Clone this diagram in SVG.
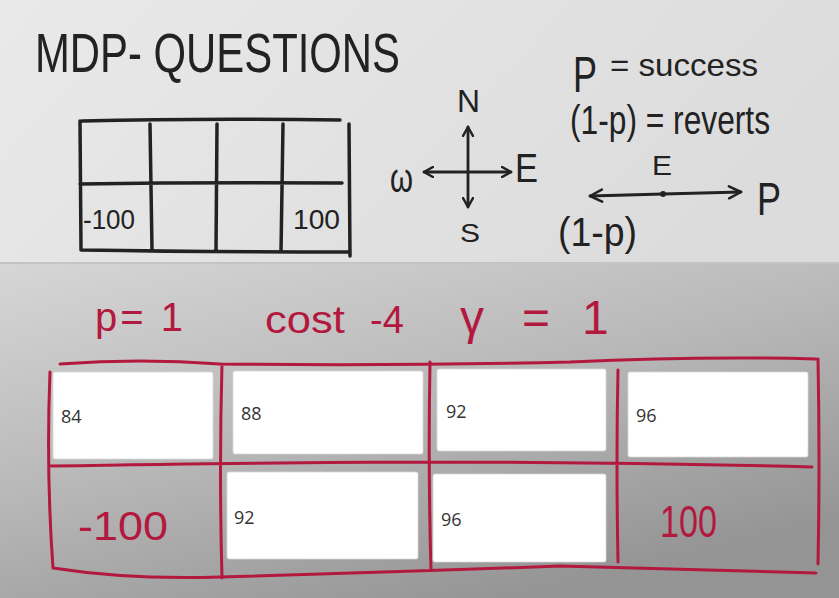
<svg xmlns="http://www.w3.org/2000/svg" width="839" height="598" viewBox="0 0 839 598">
<defs>
<linearGradient id="topbg" x1="0" y1="0" x2="1" y2="0.3">
<stop offset="0" stop-color="#e9e9e9"/><stop offset="1" stop-color="#dcdcdc"/>
</linearGradient>
<linearGradient id="botbg" x1="0" y1="0" x2="0.6" y2="1">
<stop offset="0" stop-color="#d6d6d6"/><stop offset="0.5" stop-color="#b9b9b9"/><stop offset="1" stop-color="#959595"/>
</linearGradient>
<marker id="ah" viewBox="0 0 12 12" refX="10" refY="6" markerWidth="12" markerHeight="12" markerUnits="userSpaceOnUse" orient="auto">
<polyline points="1,1 10,6 1,11" fill="none" stroke="#222" stroke-width="2.5" stroke-linecap="round" stroke-linejoin="round"/>
</marker>
<marker id="ahb" viewBox="0 0 16 16" refX="14" refY="8" markerWidth="16" markerHeight="16" markerUnits="userSpaceOnUse" orient="auto">
<polyline points="2,2 14,8 2,14" fill="none" stroke="#222" stroke-width="2.5" stroke-linecap="round" stroke-linejoin="round"/>
</marker>
</defs>
<style>
.ink{fill:none;stroke:#222;stroke-width:3.5;stroke-linecap:round;stroke-linejoin:round}
.red{fill:none;stroke:#b3193e;stroke-width:3;stroke-linecap:round;stroke-linejoin:round}
.hw{font-family:"Liberation Sans","DejaVu Sans",sans-serif;fill:#222}
.hr{font-family:"Liberation Sans","DejaVu Sans",sans-serif;fill:#b3193e}
.box{fill:#ffffff;stroke:#d8d8d8;stroke-width:0.8}
.val{font-family:"Open Sans","Noto Sans",sans-serif;font-size:18px;fill:#333}
.arr{fill:none;stroke:#222;stroke-width:2.8;stroke-linecap:round}
</style>
<rect x="0" y="0" width="839" height="263" fill="url(#topbg)"/>
<rect x="0" y="263" width="839" height="335" fill="url(#botbg)"/>
<line x1="0" y1="263" x2="839" y2="263" stroke="#c4c4c4" stroke-width="2"/>

<g id="title">
<text class="hw" x="35" y="72" font-size="56" textLength="365" lengthAdjust="spacingAndGlyphs">MDP- QUESTIONS</text>
</g>

<g id="grid-black">
<path class="ink" d="M82 121 Q200 118 340 120 M80 121 L81 250 Q200 252 350 252 M349 124 L350 256 M80 184 Q200 182 342 183 M150 124 L152 250 M217 124 L216 250 M283 124 L281 252"/>
<text class="hw" x="83" y="229" font-size="28" textLength="52" lengthAdjust="spacingAndGlyphs">-100</text>
<text class="hw" x="293" y="229" font-size="28" textLength="47" lengthAdjust="spacingAndGlyphs">100</text>
</g>

<g id="compass">
<text class="hw" x="457" y="112" font-size="32" textLength="23" lengthAdjust="spacingAndGlyphs">N</text>
<text class="hw" x="390" y="192" font-size="40" textLength="23" lengthAdjust="spacingAndGlyphs">ω</text>
<text class="hw" x="515" y="182" font-size="40" textLength="23" lengthAdjust="spacingAndGlyphs">E</text>
<text class="hw" x="460" y="242" font-size="26" textLength="20" lengthAdjust="spacingAndGlyphs">S</text>
</g>

<g id="legend">
<text class="hw" x="573" y="92" font-size="50" textLength="24" lengthAdjust="spacingAndGlyphs">P</text>
<text class="hw" x="610" y="76" font-size="32" textLength="148" lengthAdjust="spacingAndGlyphs">= success</text>
<text class="hw" x="570" y="134" font-size="40" textLength="200" lengthAdjust="spacingAndGlyphs">(1-p) = reverts</text>
<text class="hw" x="652" y="175" font-size="28" textLength="20" lengthAdjust="spacingAndGlyphs">E</text>
<text class="hw" x="757" y="215" font-size="46" textLength="24" lengthAdjust="spacingAndGlyphs">P</text>
<text class="hw" x="558" y="246" font-size="40" textLength="79" lengthAdjust="spacingAndGlyphs">(1-p)</text>
</g>

<g id="connectors">
<line class="arr" x1="468" y1="172" x2="468" y2="127" marker-end="url(#ah)"/>
<line class="arr" x1="468" y1="172" x2="468" y2="207" marker-end="url(#ah)"/>
<line class="arr" x1="468" y1="172" x2="424" y2="172" marker-end="url(#ah)"/>
<line class="arr" x1="468" y1="172" x2="511" y2="172" marker-end="url(#ah)"/>
<line class="arr" x1="663" y1="194" x2="590" y2="196" marker-end="url(#ahb)"/>
<line class="arr" x1="663" y1="194" x2="741" y2="192" marker-end="url(#ahb)"/>
<circle cx="663" cy="194" r="3" fill="#222"/>
</g>

<g id="params">
<text class="hr" x="95" y="331" font-size="40" textLength="88" lengthAdjust="spacing">p= 1</text>
<text class="hr" y="333" font-size="38"><tspan x="265" textLength="80" lengthAdjust="spacingAndGlyphs">cost</tspan> <tspan x="370">-4</tspan></text>
<text class="hr" y="334" font-size="48"><tspan x="460">γ</tspan> <tspan x="522">=</tspan> <tspan x="582">1</tspan></text>
</g>

<g id="grid-red">
<path class="red" d="M60 364 Q140 358 220 364 Q400 366 570 362 Q700 356 816 359 M50 372 Q46 470 53 568 Q130 580 220 577 Q400 572 560 566 Q700 570 816 573 M818 359 Q820 460 818 564 M50 466 Q300 462 430 462 Q620 462 812 467 M222 364 Q219 470 222 578 M430 362 Q428 470 431 570 M618 370 Q616 460 618 562"/>
<text class="hr" x="78" y="540" font-size="40" textLength="90" lengthAdjust="spacingAndGlyphs">-100</text>
<text class="hr" x="660" y="537" font-size="44" textLength="57" lengthAdjust="spacingAndGlyphs">100</text>
</g>

<g id="v-84"><rect class="box" x="53" y="372" width="160" height="87" rx="2"/><text class="val" x="61" y="423">84</text></g>
<g id="v-88"><rect class="box" x="233" y="371" width="190" height="83" rx="2"/><text class="val" x="241" y="420">88</text></g>
<g id="v-92a"><rect class="box" x="437" y="369" width="169" height="82" rx="2"/><text class="val" x="446" y="418">92</text></g>
<g id="v-96a"><rect class="box" x="628" y="372" width="180" height="85" rx="2"/><text class="val" x="636" y="422">96</text></g>
<g id="v-92b"><rect class="box" x="227" y="472" width="191" height="87" rx="2"/><text class="val" x="234" y="524">92</text></g>
<g id="v-96b"><rect class="box" x="433" y="474" width="173" height="88" rx="2"/><text class="val" x="441" y="526">96</text></g>
</svg>
